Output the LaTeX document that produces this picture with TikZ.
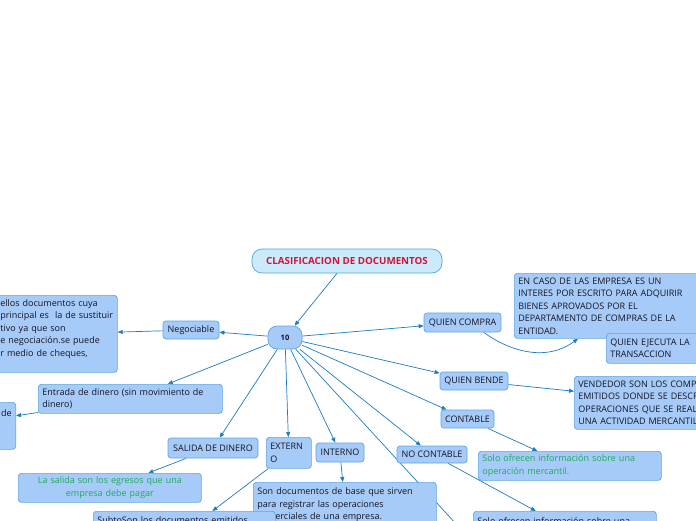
\documentclass[tikz,border=0pt]{standalone}
\usepackage{fontspec}
\usetikzlibrary{arrows.meta,positioning,backgrounds,calc}
\newfontfamily\mapa{Open Sans}
\definecolor{ideafondo}{RGB}{167,203,248}
\definecolor{ideaborde}{RGB}{93,166,230}
\definecolor{titfondo}{RGB}{203,235,251}
\definecolor{titborde}{RGB}{77,166,222}
\definecolor{lineacol}{RGB}{28,124,192}
\definecolor{tinta}{RGB}{20,20,35}
\definecolor{rojotit}{RGB}{210,20,58}
\definecolor{verdetxt}{RGB}{30,170,90}
\newcommand{\fuente}{\mapa\fontsize{9}{12.5}\selectfont}

\begin{document}
\begin{tikzpicture}[
    x=1pt, y=-1pt,
    idea/.style={draw=ideaborde, fill=ideafondo, rounded corners=3pt, line width=0.7pt,
        text=tinta, font=\fuente, inner sep=0pt},
    nota/.style={idea, align=left, anchor=north west, inner xsep=4pt, inner ysep=3pt},
    conn/.style={draw=lineacol, line width=0.7pt, -{Triangle[length=5pt,width=4pt]}},
]
\useasboundingbox (0,0) rectangle (696,520);

% centro y titulo
\node[idea, fill=titfondo, draw=titborde, rounded corners=10pt, minimum width=190pt, minimum height=24pt,
    text=rojotit, font=\mapa\bfseries\fontsize{9.8}{12}\selectfont] (titulo) at (347,261) {CLASIFICACION DE DOCUMENTOS};
\node[idea, rounded corners=9pt, minimum width=34pt, minimum height=23pt,
    font=\mapa\bfseries\fontsize{7.5}{9}\selectfont] (diez) at (285,337.5) {10};

% rama izquierda
\node[idea, minimum width=56pt, minimum height=18pt] (negoc) at (191,330) {Negociable};
\node[nota, text width=113pt, minimum height=77pt] (negtxt) at (-4,295)
    {ellos documentos cuya\\\mbox{principal es\ \ la de sustituir}\\tivo ya que son\\e negociación.se puede\\r medio de cheques,\\\mbox{}};
\node[nota, text width=176pt, minimum height=29pt] (entrada) at (38,384)
    {Entrada de dinero (sin movimiento de\\dinero)};
\node[nota, anchor=north east, align=right, text width=128pt, minimum height=47pt] (enttxt) at (16,402)
    {de\\\mbox{}\\\mbox{}};
\node[idea, minimum width=90pt, minimum height=20pt] (salida) at (213,448) {SALIDA DE DINERO};
\node[nota, align=center, text width=175pt, minimum height=29pt, text=verdetxt] (saltxt) at (18,473)
    {La salida son los egresos que una\\empresa debe pagar};

% rama inferior
\node[nota, text width=37pt, minimum height=31pt] (externo) at (266,437) {EXTERN\\O};
\node[idea, minimum width=48pt, minimum height=19pt] (interno) at (340,452.5) {INTERNO};
\node[nota, text width=175pt, minimum height=45pt] (inttxt) at (253,482)
    {Son documentos de base que sirven\\para registrar las operaciones\\comerciales de una empresa.};
\node[nota, text width=174pt, minimum height=42pt] (exttxt) at (93,511)
    {SubtoSon los documentos emitidos\\\mbox{}\\\mbox{}};
\coordinate (oculto) at (480,550);

% rama derecha
\node[idea, minimum width=77pt, minimum height=19pt] (qcompra) at (462.5,322.5) {QUIEN COMPRA};
\node[nota, text width=242pt, minimum height=65pt] (comtxt) at (514,273)
    {EN CASO DE LAS EMPRESA ES UN\\INTERES POR ESCRITO PARA ADQUIRIR\\BIENES APROVADOS POR EL\\DEPARTAMENTO DE COMPRAS DE LA\\ENTIDAD.};
\node[nota, text width=192pt, minimum height=30pt] (qejecuta) at (606,333)
    {QUIEN EJECUTA LA\ \ C\\TRANSACCION};
\node[idea, minimum width=68pt, minimum height=18pt] (qbende) at (474,381) {QUIEN BENDE};
\node[nota, text width=218pt, minimum height=53pt] (bendtxt) at (574,376)
    {VENDEDOR SON LOS COMPR\\EMITIDOS DONDE SE DESCRI\\OPERACIONES QUE SE REALI\\UNA ACTIVIDAD MERCANTIL};
\node[idea, minimum width=53pt, minimum height=18pt] (contable) at (467.5,419) {CONTABLE};
\node[nota, text width=175pt, minimum height=29pt, text=verdetxt] (contxt) at (478,451)
    {Solo ofrecen información sobre una\\operación mercantil.};
\node[idea, minimum width=70pt, minimum height=17pt] (nocont) at (432,454.5) {NO CONTABLE};
\node[nota, text width=175pt, minimum height=31pt] (nocontxt) at (473,511)
    {Solo ofrecen información sobre una\\\mbox{}};

\begin{scope}[on background layer]
\fill[white] (0,0) rectangle (696,520);
\draw[conn] (titulo) -- (diez);
\draw[conn] (diez) -- (negoc);
\draw[conn] (negoc) -- (negtxt);
\draw[conn] (diez) -- (entrada);
\draw[conn] (entrada) -- (enttxt);
\draw[conn] (diez) -- (salida);
\draw[conn] (salida) -- (saltxt);
\draw[conn] (diez) -- (externo);
\draw[conn] (externo) -- (exttxt);
\draw[conn] (diez) -- (interno);
\draw[conn] (interno) -- (inttxt);
\draw[conn] (diez) -- (oculto);
\draw[conn] (diez) -- (nocont);
\draw[conn] (nocont) -- (nocontxt);
\draw[conn] (diez) -- (contable);
\draw[conn] (contable) -- (contxt);
\draw[conn] (diez) -- (qbende);
\draw[conn] (qbende) -- (bendtxt);
\draw[conn] (diez) -- (qcompra);
\draw[conn] (qcompra.-25) .. controls +(25,18) and +(-33,24) .. ([xshift=64pt]comtxt.south west);
\end{scope}
\end{tikzpicture}
\end{document}
